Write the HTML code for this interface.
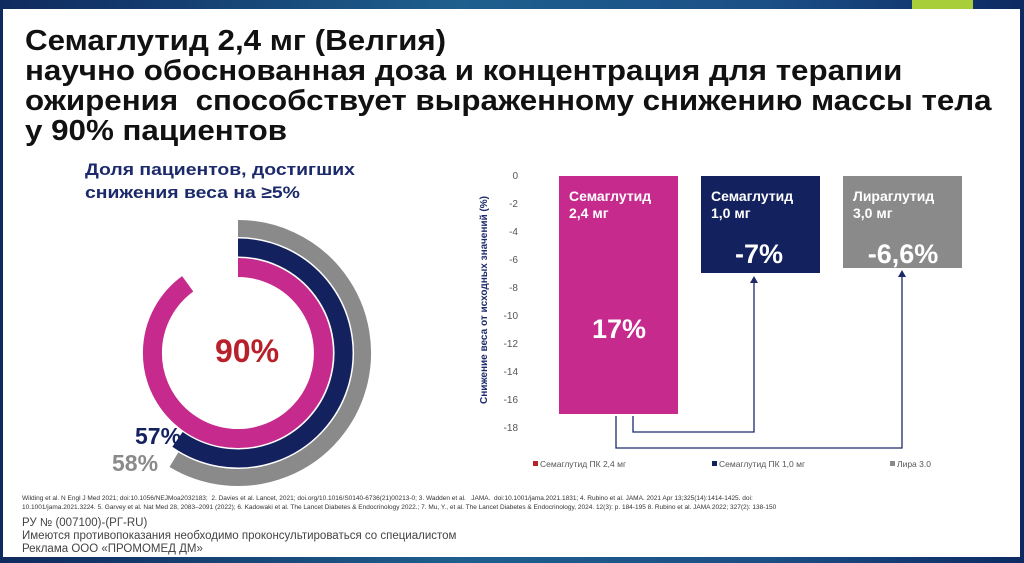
<!DOCTYPE html>
<html><head><meta charset="utf-8"><style>
html,body{margin:0;padding:0;}
body{width:1024px;height:563px;overflow:hidden;position:relative;font-family:"Liberation Sans",sans-serif;background:linear-gradient(90deg,#0f2a5e 0%,#1e5f8e 45%,#1b4f86 75%,#0d2a63 100%);}
#panel{position:absolute;left:3px;top:9px;width:1017px;height:548px;background:#fff;}
#green{position:absolute;left:912px;top:0;width:61px;height:9px;background:#a8cf3a;}
.t{position:absolute;white-space:nowrap;}
#title{left:25px;top:26px;font-weight:bold;font-size:29px;line-height:30px;color:#111;transform:scaleX(1.08);transform-origin:0 0;}
#sub{left:85px;top:158px;font-weight:bold;font-size:17px;line-height:23px;color:#1c2a6b;transform:scaleX(1.14);transform-origin:0 0;}
.refs{left:22px;font-size:6.5px;color:#333;}
.foot{left:22px;font-size:11.5px;color:#444;}
</style></head><body>
<div id="panel"></div><div id="green"></div>
<div class="t" id="title">Семаглутид 2,4 мг (Велгия)<br>научно обоснованная доза и концентрация для терапии<br>ожирения&nbsp; способствует выраженному снижению массы тела<br>у 90% пациентов</div>
<div class="t" id="sub">Доля пациентов, достигших<br>снижения веса на ≥5%</div>
<svg style="position:absolute;left:0;top:0" width="1024" height="563">
<g fill="none" transform="translate(238,353)">
<path d="M0,-124.5 A124.5,124.5 0 1 1 -64.1,106.7" stroke="#8a8a8a" stroke-width="17"/>
<path d="M0,-105.5 A105.5,105.5 0 1 1 -60.5,86.4" stroke="#13215e" stroke-width="18"/>
<path d="M0,-85.5 A85.5,85.5 0 1 1 -50.3,-69.2" stroke="#c52a8c" stroke-width="19"/>
</g>
<text x="247" y="362" font-size="32" font-weight="bold" fill="#b8202a" text-anchor="middle">90%</text>
<text x="135" y="444" font-size="23" font-weight="bold" fill="#13215e">57%</text>
<text x="112" y="471" font-size="23" font-weight="bold" fill="#8a8a8a">58%</text>
<g font-size="10" fill="#555" text-anchor="end">
<text x="518" y="179">0</text><text x="518" y="207">-2</text><text x="518" y="235">-4</text><text x="518" y="263">-6</text><text x="518" y="291">-8</text><text x="518" y="319">-10</text><text x="518" y="347">-12</text><text x="518" y="375">-14</text><text x="518" y="403">-16</text><text x="518" y="431">-18</text>
</g>
<text transform="translate(487,300) rotate(-90)" font-size="10" font-weight="bold" fill="#1c2a6b" text-anchor="middle">Снижение веса от исходных значений (%)</text>
<rect x="559" y="176" width="119" height="238" fill="#c52a8c"/>
<rect x="701" y="176" width="119" height="97" fill="#13215e"/>
<rect x="843" y="176" width="119" height="92" fill="#8a8a8a"/>
<g fill="#fff" font-weight="bold">
<text x="569" y="201" font-size="14">Семаглутид</text><text x="569" y="218" font-size="14">2,4 мг</text>
<text x="711" y="201" font-size="14">Семаглутид</text><text x="711" y="218" font-size="14">1,0 мг</text>
<text x="853" y="201" font-size="14">Лираглутид</text><text x="853" y="218" font-size="14">3,0 мг</text>
<text x="619" y="338" font-size="27" text-anchor="middle">17%</text>
<text x="759" y="263" font-size="27" text-anchor="middle">-7%</text>
<text x="903" y="263" font-size="27" text-anchor="middle">-6,6%</text>
</g>
<g fill="none" stroke="#1c2a6b" stroke-width="1.3">
<polyline points="633,416 633,432 754,432 754,282"/>
<polyline points="616,416 616,448 902,448 902,276"/>
</g>
<polygon points="750,283 758,283 754,276" fill="#1c2a6b"/>
<polygon points="898,277 906,277 902,270" fill="#1c2a6b"/>
<g font-size="8.5" fill="#555">
<rect x="533" y="461" width="5" height="5" fill="#b8202a"/><text x="540" y="467">Семаглутид ПК 2,4 мг</text>
<rect x="712" y="461" width="5" height="5" fill="#13215e"/><text x="719" y="467">Семаглутид ПК 1,0 мг</text>
<rect x="890" y="461" width="5" height="5" fill="#8a8a8a"/><text x="897" y="467">Лира 3.0</text>
</g>
</svg>
<div class="t refs" style="top:495px">Wilding et al. N Engl J Med 2021; doi:10.1056/NEJMoa2032183;&nbsp; 2. Davies et al. Lancet, 2021; doi.org/10.1016/S0140-6736(21)00213-0; 3. Wadden et al.&nbsp;&nbsp; JAMA.&nbsp; doi:10.1001/jama.2021.1831; 4. Rubino et al. JAMA. 2021 Apr 13;325(14):1414-1425. doi:</div>
<div class="t refs" style="top:504px">10.1001/jama.2021.3224. 5. Garvey et al. Nat Med 28, 2083–2091 (2022); 6. Kadowaki et al. The Lancet Diabetes &amp; Endocrinology 2022.; 7. Mu, Y., et al. The Lancet Diabetes &amp; Endocrinology, 2024. 12(3): p. 184-195 8. Rubino et al. JAMA 2022; 327(2): 138-150</div>
<div class="t foot" style="top:517px">РУ № (007100)-(РГ-RU)</div>
<div class="t foot" style="top:530px">Имеются противопоказания необходимо проконсультироваться со специалистом</div>
<div class="t foot" style="top:543px">Реклама ООО «ПРОМОМЕД ДМ»</div>
</body></html>
